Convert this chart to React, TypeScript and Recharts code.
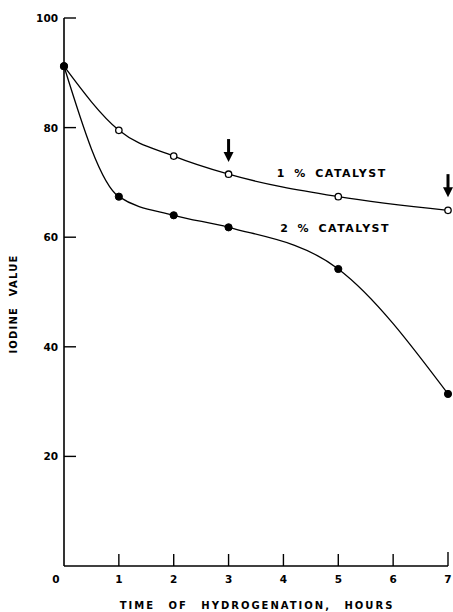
import React from 'react';
import { LineChart, Line, XAxis, YAxis, ReferenceDot } from 'recharts';

const hours = [0, 1, 2, 3, 5, 7];
const catalyst1 = [91.2, 79.5, 74.8, 71.5, 67.4, 64.9];
const catalyst2 = [91.2, 67.4, 64.0, 61.8, 54.2, 31.4];
const xTicks = [0, 1, 2, 3, 4, 5, 6, 7];
const yTicks = [0, 20, 40, 60, 80, 100];
const arrowPoints = [
  { x: 3, y: 75.9 },
  { x: 7, y: 69.5 },
];
const seriesLabels = [
  { x: 3.88, y: 71.7, text: '1 % CATALYST' },
  { x: 3.94, y: 61.7, text: '2 % CATALYST' },
];
const xTitle = 'TIME OF HYDROGENATION, HOURS';
const yTitle = 'IODINE VALUE';

const data = hours.map((h, i) => ({ h, c1: catalyst1[i], c2: catalyst2[i] }));

const FONT = '"DejaVu Sans", sans-serif';
const X_MAX = 7;
const Y_MAX = 100;
const PLOT_W = 384;
const PLOT_H = 548;
const TICK_PX = 12;
// tick marks are anchored at their midpoint, half a tick inside the plot
const xTickMid = (TICK_PX / 2 / PLOT_H) * Y_MAX;
const yTickMid = (TICK_PX / 2 / PLOT_W) * X_MAX;

const YTick = (props: any) => {
  const { x, y, payload } = props;
  const v = payload.value;
  if (v === 0) return <g />;
  return (
    <text x={x - 6} y={y} dy={4} textAnchor="end" fontSize={10.5} fontWeight="bold" fontFamily={FONT} fill="#000">
      {v}
    </text>
  );
};

const XTick = (props: any) => {
  const { x, y, payload } = props;
  const v = payload.value;
  return (
    <text x={v === 0 ? x - 8 : x} y={y + 17} textAnchor="middle" fontSize={10.5} fontWeight="bold" fontFamily={FONT} fill="#000">
      {v}
    </text>
  );
};

const XTickMark = (props: any) => {
  const { cx, cy, extra } = props;
  return (
    <g>
      <line x1={cx} y1={cy + TICK_PX / 2} x2={cx} y2={cy - TICK_PX / 2 - (extra || 0)} stroke="#000" strokeWidth={1.4} />
    </g>
  );
};

const YTickMark = (props: any) => {
  const { cx, cy } = props;
  return (
    <g>
      <line x1={cx - TICK_PX / 2} y1={cy} x2={cx + TICK_PX / 2} y2={cy} stroke="#000" strokeWidth={1.4} />
    </g>
  );
};

const Arrow = (props: any) => {
  const { cx, cy } = props;
  return (
    <g>
      <line x1={cx} y1={cy - 11} x2={cx} y2={cy + 3} stroke="#000" strokeWidth={3} />
      <polygon points={`${cx - 5},${cy + 2} ${cx + 5},${cy + 2} ${cx},${cy + 12}`} fill="#000" />
    </g>
  );
};

const SeriesLabel = (props: any) => {
  const { cx, cy, text } = props;
  return (
    <text x={cx} y={cy} dy={4} textAnchor="start" fontSize={11} fontWeight="bold" fontFamily={FONT} letterSpacing={1.5} wordSpacing={3} fill="#000">
      {text}
    </text>
  );
};

const OpenDot = (props: any) => {
  const { cx, cy } = props;
  return <circle cx={cx} cy={cy} r={3.2} fill="#fff" stroke="#000" strokeWidth={1.3} />;
};
const FilledDot = (props: any) => {
  const { cx, cy } = props;
  return <circle cx={cx} cy={cy} r={3.6} fill="#000" stroke="#000" strokeWidth={1} />;
};

const XTitle = (props: any) => {
  const vb = props.viewBox || {};
  const cx = (vb.x ?? 64) + (vb.width ?? 384) / 2;
  return (
    <text x={cx + 1} y={609} textAnchor="middle" fontSize={10} fontWeight="bold" fontFamily={FONT} letterSpacing={2} wordSpacing={8} fill="#000">
      {xTitle}
    </text>
  );
};

const YTitle = () => (
  <text x={17} y={304} transform="rotate(-90 17 304)" textAnchor="middle" fontSize={10} fontWeight="bold" fontFamily={FONT} letterSpacing={1.2} wordSpacing={6} fill="#000">
    {yTitle}
  </text>
);

export default function App() {
  return (
    <div style={{ position: 'absolute', left: 0, top: 0, width: 453, height: 612, background: '#fff' }}>
      <LineChart width={453} height={612} data={data} margin={{ top: 18, right: 5, left: 0, bottom: 0 }}>
        <XAxis
          dataKey="h"
          type="number"
          domain={[0, X_MAX]}
          ticks={xTicks}
          tickLine={false}
          tickSize={0}
          tickMargin={0}
          height={46}
          tick={<XTick />}
          axisLine={{ stroke: '#000', strokeWidth: 1.6 }}
          interval={0}
          label={<XTitle />}
        />
        <YAxis
          type="number"
          domain={[0, Y_MAX]}
          ticks={yTicks}
          tickLine={false}
          tickSize={0}
          tickMargin={0}
          width={64}
          tick={<YTick />}
          axisLine={{ stroke: '#000', strokeWidth: 1.6 }}
          interval={0}
          label={<YTitle />}
        />
        <Line type="monotone" dataKey="c1" stroke="#000" strokeWidth={1.3} dot={<OpenDot />} activeDot={false} isAnimationActive={false} />
        <Line type="monotone" dataKey="c2" stroke="#000" strokeWidth={1.3} dot={<FilledDot />} activeDot={false} isAnimationActive={false} />
        {arrowPoints.map((p, i) => (
          <ReferenceDot key={`a${i}`} x={p.x} y={p.y} r={0} shape={<Arrow />} />
        ))}
        {seriesLabels.map((l, i) => (
          <ReferenceDot key={`l${i}`} x={l.x} y={l.y} r={0} shape={<SeriesLabel text={l.text} />} />
        ))}
        {xTicks.filter((t) => t !== 0).map((t) => (
          <ReferenceDot key={`xt${t}`} x={t === X_MAX ? X_MAX - 0.0001 : t} y={xTickMid} r={0} shape={<XTickMark extra={t === X_MAX ? 2 : 0} />} />
        ))}
        {yTicks.filter((t) => t !== 0).map((t) => (
          <ReferenceDot key={`yt${t}`} x={yTickMid} y={t === Y_MAX ? Y_MAX - 0.0001 : t} r={0} shape={<YTickMark />} />
        ))}
      </LineChart>
    </div>
  );
}
